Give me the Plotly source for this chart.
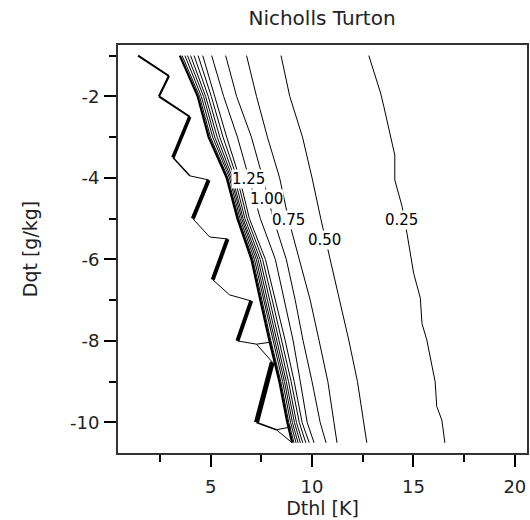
import plotly.graph_objects as go

# Contour paths of the Nicholls-Turton entrainment efficiency in (Dthl, Dqt) space.
# Each level is stored as Dthl positions along the common Dqt rows.
dqt_rows = [-1.0, -2.0, -3.0, -4.0, -5.0, -6.0, -7.0, -8.0, -9.0, -10.0, -10.5]

dthl_050 = [8.47, 8.90, 9.53, 10.00, 10.43, 10.89, 11.38, 11.82, 12.24, 12.53, 12.70]
dthl_075 = [6.77, 7.26, 7.80, 8.40, 8.83, 9.37, 9.91, 10.35, 10.78, 11.08, 11.23]
dthl_100 = [5.74, 6.28, 7.01, 7.57, 8.09, 8.73, 9.17, 9.56, 10.00, 10.40, 10.69]
dthl_125 = [5.05, 5.64, 6.32, 6.89, 7.45, 8.19, 8.63, 9.07, 9.42, 9.76, 10.10]
dthl_150 = [4.61, 5.20, 5.79, 6.42, 6.91, 7.70, 8.19, 8.68, 9.12, 9.51, 9.86]
dthl_175 = [4.38, 5.03, 5.61, 6.30, 6.80, 7.56, 8.04, 8.52, 8.97, 9.37, 9.69]
dthl_200 = [4.18, 4.88, 5.45, 6.18, 6.69, 7.44, 7.91, 8.38, 8.84, 9.23, 9.54]
dthl_225 = [4.01, 4.75, 5.32, 6.08, 6.60, 7.34, 7.80, 8.26, 8.73, 9.13, 9.42]
dthl_250 = [3.86, 4.65, 5.20, 6.00, 6.53, 7.25, 7.70, 8.16, 8.64, 9.03, 9.31]
dthl_275 = [3.73, 4.54, 5.10, 5.93, 6.45, 7.16, 7.62, 8.07, 8.55, 8.94, 9.21]
dthl_300 = [3.59, 4.45, 4.99, 5.85, 6.38, 7.08, 7.53, 7.97, 8.46, 8.85, 9.11]
dthl_325 = [3.48, 4.36, 4.90, 5.79, 6.32, 7.01, 7.45, 7.90, 8.39, 8.78, 9.02]

# The 0.25 level is traced on its own rows
dqt_025 = [-1.0, -1.92, -2.25, -3.44, -4.05, -4.70, -5.36, -6.34, -6.95,
           -7.57, -7.98, -9.0, -9.61, -9.94, -10.5]
dthl_025 = [12.80, 13.38, 13.54, 14.08, 14.08, 14.44, 14.68, 15.01, 15.34,
            15.42, 15.66, 16.07, 16.15, 16.40, 16.55]

# Jagged outer boundary of the contoured region
edge_dthl = [1.42, 2.94, 2.45, 3.97, 3.14, 3.97, 4.90, 4.12, 4.95, 5.83,
             5.10, 5.93, 7.00, 6.32, 7.26, 8.04, 7.26, 8.24, 9.02]
edge_dqt = [-1.0, -1.5, -2.0, -2.5, -3.5, -3.95, -4.05, -5.0, -5.45, -5.5,
            -6.5, -6.87, -7.02, -8.0, -8.08, -8.52, -10.0, -10.18, -10.5]
spur1_dthl = [7.26, 7.99]
spur1_dqt = [-8.08, -8.03]
spur2_dthl = [8.24, 8.97]
spur2_dqt = [-10.18, -10.11]

# Contour label texts and where they sit
label_text = ["1.25", "1.00", "0.75", "0.50", "0.25"]
label_dthl = [6.87, 7.75, 8.83, 10.60, 14.42]
label_dqt = [-4.02, -4.52, -5.03, -5.52, -5.03]

# Axis ticks (plain hyphen minus signs)
x_ticks = [5, 10, 15, 20]
x_tick_text = ["5", "10", "15", "20"]
y_ticks = [-2, -4, -6, -8, -10]
y_tick_text = ["-2", "-4", "-6", "-8", "-10"]

# ---- styling ----
INK = "black"
FONT = "DejaVu Sans"
edge_widths = [2, 2.2, 2, 3.5, 1.5, 1, 4, 1, 1, 4, 1, 1, 4, 1, 1, 5, 1.5, 1]

fig = go.Figure()


def add_line(xs, ys, width=1.0):
    fig.add_trace(go.Scatter(
        x=xs, y=ys, mode="lines",
        line=dict(color=INK, width=width),
        hoverinfo="skip", showlegend=False,
    ))


add_line(dthl_025, dqt_025)
for xs in [dthl_050, dthl_075, dthl_100, dthl_125, dthl_150, dthl_175,
           dthl_200, dthl_225, dthl_250, dthl_275, dthl_300]:
    add_line(xs, dqt_rows)
add_line(dthl_325, dqt_rows, width=2.2)

# boundary drawn segment by segment so each stroke can carry its own weight
for i, w in enumerate(edge_widths):
    add_line(edge_dthl[i:i + 2], edge_dqt[i:i + 2], width=w)
add_line(spur1_dthl, spur1_dqt)
add_line(spur2_dthl, spur2_dqt)

for t, x, y in zip(label_text, label_dthl, label_dqt):
    fig.add_annotation(
        x=x, y=y, text=t, showarrow=False,
        font=dict(family=FONT, size=15, color=INK),
        bgcolor="white", borderpad=0,
    )

axis_common = dict(
    showgrid=False, zeroline=False,
    showline=True, mirror=True, linecolor="#333", linewidth=2,
    ticks="outside", ticklen=12, tickwidth=1.5, tickcolor=INK,
    tickfont=dict(family=FONT, size=18, color="#222"),
)

fig.update_layout(
    width=530, height=520,
    margin=dict(l=118, r=1, t=45, b=67),
    paper_bgcolor="white", plot_bgcolor="white",
    title=dict(text="Nicholls Turton", x=322 / 530, xanchor="center",
               y=1 - 18 / 520, yanchor="middle",
               font=dict(family=FONT, size=20, color="#222")),
    xaxis=dict(
        range=[0.43, 20.6], tickvals=x_ticks, ticktext=x_tick_text,
        ticklabelstandoff=4,
        minor=dict(ticks="outside", ticklen=7, tickwidth=1.5, tickcolor=INK,
                   tick0=0, dtick=2.5, showgrid=False),
        title=dict(text="Dthl [K]", standoff=3,
                   font=dict(family=FONT, size=19, color="#222")),
        **axis_common,
    ),
    yaxis=dict(
        range=[-10.75, -0.74], tickvals=y_ticks, ticktext=y_tick_text,
        ticklabelstandoff=1,
        minor=dict(ticks="outside", ticklen=7, tickwidth=1.5, tickcolor=INK,
                   tick0=0, dtick=1, showgrid=False),
        title=dict(text="Dqt [g/kg]", standoff=27,
                   font=dict(family=FONT, size=19, color="#222")),
        **axis_common,
    ),
)

fig.write_html("out.html")
